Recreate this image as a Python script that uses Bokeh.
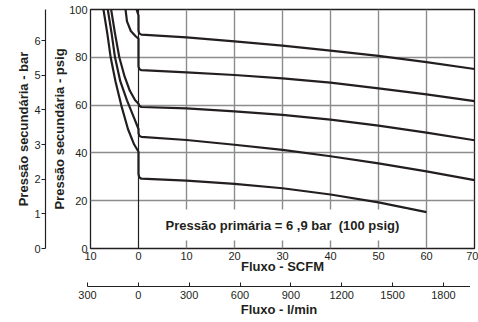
from bokeh.plotting import figure
from bokeh.layouts import column
from bokeh.models import Range1d, LinearAxis, FixedTicker, Span, Label
from bokeh.embed import file_html
from bokeh.resources import INLINE

# ---- data (flow in SCFM, secondary pressure in psig) ----
curve_a_flow = [-7.3, -6.5, -5.8, -4.8, -3.6, -2.2, -0.9, 0, 0, 0.15, 0.6, 10, 20, 30, 40, 50, 60]
curve_a_psig = [100, 90, 80, 70, 60, 50, 43.5, 40.5, 31.2, 29.8, 29.2, 28.4, 27.0, 25.2, 22.6, 19.3, 15.2]

curve_b_flow = [-6.4, -5.6, -4.9, -3.8, -2.4, -1.2, 0, 0, 0.15, 0.6, 10, 20, 30, 40, 50, 60, 70]
curve_b_psig = [100, 90, 80, 70, 62, 56, 50, 48.3, 47.2, 46.7, 45.4, 43.4, 41.3, 38.6, 35.6, 32.3, 28.6]

curve_c_flow = [-5.7, -4.9, -4.0, -2.9, -1.8, -0.7, 0, 0.15, 0.6, 10, 20, 30, 40, 50, 60, 70]
curve_c_psig = [100, 90, 80, 72, 66, 62, 60.6, 59.7, 59.2, 58.6, 57.4, 55.9, 53.9, 51.4, 48.5, 45.3]

curve_d_flow = [-2.7, -2.4, -1.6, -0.6, 0, 0, 0.15, 0.6, 10, 20, 30, 40, 50, 60, 70]
curve_d_psig = [100, 95, 91, 88.8, 87.8, 76.3, 75.1, 74.6, 73.7, 72.6, 71.2, 69.4, 67.0, 64.5, 61.7]

curve_e_flow = [-0.4, 0, 0, 0.15, 0.6, 10, 20, 30, 40, 50, 60, 70]
curve_e_psig = [100, 97.5, 91.2, 90.0, 89.5, 88.3, 86.7, 84.9, 82.8, 80.6, 78.0, 75.1]

curves = [(curve_a_flow, curve_a_psig), (curve_b_flow, curve_b_psig),
          (curve_c_flow, curve_c_psig), (curve_d_flow, curve_d_psig),
          (curve_e_flow, curve_e_psig)]

scfm_ticks = [-10, 0, 10, 20, 30, 40, 50, 60, 70]
psig_ticks = [0, 20, 40, 60, 80, 100]
bar_ticks = [0, 1, 2, 3, 4, 5, 6]
lmin_ticks = [-300, 0, 300, 600, 900, 1200, 1500, 1800]

SCFM_TO_LMIN = 28.3168
PSI_PER_BAR = 14.5038
PX_PER_SCFM = 4.8

FONT = "Liberation Sans"
INK = "#231f20"
GRID = "#8c8c8c"


def style_labels(ax, standoff):
    ax.major_label_standoff = standoff
    ax.major_label_text_font = FONT
    ax.major_label_text_font_size = "11px"
    ax.major_label_text_color = INK
    ax.minor_tick_line_color = None


def style_title(ax, text, standoff):
    ax.axis_label = text
    ax.axis_label_text_font = FONT
    ax.axis_label_text_font_size = "13px"
    ax.axis_label_text_font_style = "bold"
    ax.axis_label_text_color = INK
    ax.axis_label_standoff = standoff


p = figure(frame_width=384, frame_height=239, output_backend="svg", toolbar_location=None,
           x_range=Range1d(-10, 70), y_range=Range1d(0, 100),
           min_border_left=90, min_border_right=4, min_border_top=9, min_border_bottom=33)
p.background_fill_color = "white"
p.border_fill_color = "white"
p.outline_line_color = INK
p.outline_line_width = 1.3

p.extra_y_ranges = {"bar": Range1d(0, 100 / PSI_PER_BAR)}

p.xgrid.ticker = FixedTicker(ticks=[10, 20, 30, 40, 50, 60])
p.ygrid.ticker = FixedTicker(ticks=[20, 40, 60, 80])
for g in (p.xgrid[0], p.ygrid[0]):
    g.grid_line_color = GRID
    g.grid_line_width = 1.4

p.add_layout(Span(location=0, dimension="height", line_color=INK, line_width=1.2))

for fx, fy in curves:
    p.line(fx, fy, line_color=INK, line_width=2.2, line_join="round")

# psig axis
ya = p.yaxis[0]
ya.ticker = FixedTicker(ticks=psig_ticks)
ya.axis_line_color = None
ya.major_tick_out = 0
ya.major_tick_in = 0
style_labels(ya, 3)
style_title(ya, "Pressão secundária - psig", -1)

# spacer between psig and bar axes
sp_left = LinearAxis(ticker=FixedTicker(ticks=[]), axis_line_color=None,
                     major_tick_out=0, major_tick_in=0, minor_tick_line_color=None,
                     major_label_standoff=0, axis_label=" ",
                     axis_label_text_font_size="1px", axis_label_standoff=0)
p.add_layout(sp_left, "left")

# bar axis
ba = LinearAxis(y_range_name="bar", ticker=FixedTicker(ticks=bar_ticks))
ba.axis_line_color = INK
ba.axis_line_width = 1.2
ba.major_tick_line_color = INK
ba.major_tick_out = 4
ba.major_tick_in = 0
style_labels(ba, 1)
style_title(ba, "Pressão secundária - bar", 0)
p.add_layout(ba, "left")

# SCFM axis
xa = p.xaxis[0]
xa.ticker = FixedTicker(ticks=scfm_ticks)
xa.major_label_overrides = {-10: "10"}
xa.axis_line_color = None
xa.major_tick_out = 0
xa.major_tick_in = 0
style_labels(xa, 3)
style_title(xa, "Fluxo - SCFM", -4)

p.add_layout(Label(x=30, y=9.8, text="Pressão primária = 6 ,9 bar \u00a0(100 psig)",
                   text_align="center", text_baseline="middle",
                   text_font=FONT, text_font_size="13px", text_font_style="bold",
                   text_color=INK, background_fill_color="white", padding=8))

# l/min scale as its own strip below
lmin_start, lmin_end = -300, 1960
px_per_lmin = PX_PER_SCFM / SCFM_TO_LMIN
q = figure(frame_width=round((lmin_end - lmin_start) * px_per_lmin), frame_height=1,
           output_backend="svg", toolbar_location=None,
           x_range=Range1d(lmin_start, lmin_end), y_range=Range1d(0, 1),
           y_axis_location=None,
           min_border_left=87, min_border_right=0, min_border_top=4, min_border_bottom=0)
q.outline_line_color = None
q.grid.visible = False
q.background_fill_color = "white"
q.border_fill_color = "white"
la = q.xaxis[0]
la.ticker = FixedTicker(ticks=lmin_ticks)
la.major_label_overrides = {-300: "300"}
la.axis_line_color = INK
la.axis_line_width = 1.2
la.major_tick_line_color = INK
la.major_tick_in = 4
la.major_tick_out = 0
style_labels(la, 4)
style_title(la, "Fluxo - l/min", 0)

for fig in (p, q):
    if "frame_align" in fig.properties():
        fig.frame_align = False

layout = column(p, q, spacing=0)
open("out.html", "w").write(file_html(layout, INLINE))
